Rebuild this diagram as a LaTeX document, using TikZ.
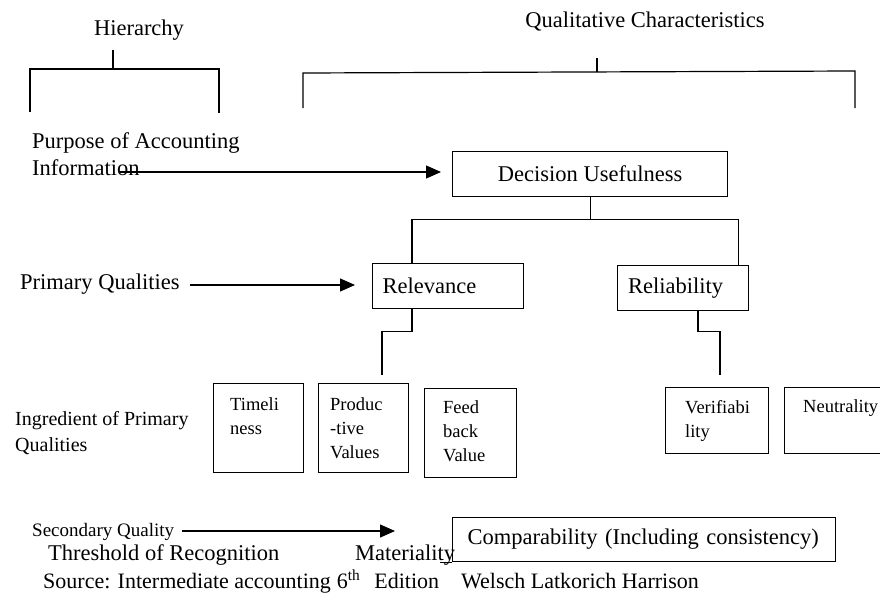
\documentclass[tikz,border=0pt]{standalone}
\usepackage{fontspec}
\setmainfont{Liberation Serif}
\usetikzlibrary{arrows.meta}
\begin{document}
\begin{tikzpicture}[x=1pt,y=-1pt,
  ln/.style={line width=1.2pt},
  arr/.style={line width=1.2pt,-{Triangle[length=15pt,width=13pt]}},
  box/.style={draw,line width=1.2pt,inner sep=0pt,anchor=north west},
  tx/.style={inner sep=0pt,anchor=base west},
  fbig/.style={font=\fontsize{22.5}{24}\selectfont},
  fmid/.style={font=\fontsize{20}{26}\selectfont},
  fsec/.style={font=\fontsize{19}{22}\selectfont},
  fsrc/.style={font=\fontsize{22}{24}\selectfont},
  fsmall/.style={font=\fontsize{18.5}{24}\selectfont,align=left,anchor=north west,inner sep=0pt},
]
\useasboundingbox (0,0) rectangle (880,594);

% headings and brackets
\node[tx,fbig,anchor=base] (hier) at (139,36) {Hierarchy};
\node[tx,fbig,anchor=base] (qc) at (645,28) {Qualitative Characteristics};
\draw[ln] (30,112) -- (30,69) -- (219,69) -- (219,113);
\draw[ln] (113,69) -- (113,50);
\draw[ln] (303,108) -- (303,73) -- (855,71) -- (855,108);
\draw[ln] (597,72) -- (597,58);

% left labels
\node[tx,fbig] (purp) at (32,148) {Purpose of Accounting};
\node[tx,fbig] (info) at (32,175) {Information};
\node[tx,fbig] (prim) at (20,289) {Primary Qualities};
\node[tx,fmid] (ingr) at (15,425) {Ingredient of Primary};
\node[tx,fmid] (ingr2) at (15,451) {Qualities};
\node[tx,fsec] (secq) at (32,536) {Secondary Quality};
\node[tx,fbig] (thr) at (48,560) {Threshold of Recognition};
\node[tx,fbig] (mat) at (355,560) {Materiality};
\node[tx,fsrc] (src) at (43,588) {Source: Intermediate accounting\hspace{6pt}6\textsuperscript{th}\hspace{14pt}Edition\hspace{22pt}Welsch Latkorich Harrison};

% main boxes
\node[box,fbig,minimum width=275pt,minimum height=45pt] (du) at (452,151) {Decision Usefulness};
\node[box,fbig,minimum width=151pt,minimum height=45pt,text width=131pt,inner xsep=10pt,align=left] (rel) at (372,263) {Relevance};
\node[box,fbig,minimum width=131pt,minimum height=45pt,text width=110pt,inner xsep=10.5pt,align=left] (rb) at (617,265) {Reliability};
\node[box,fbig,minimum width=383pt,minimum height=44pt,text width=353pt,inner xsep=15pt,align=left] (cmp) at (452,517) {Comparability (Including consistency)\\[4pt]};

% ingredient boxes
\node[box,minimum width=90pt,minimum height=89pt] (b1) at (213,383) {};
\node[box,minimum width=90pt,minimum height=89pt] (b2) at (318,383) {};
\node[box,minimum width=92pt,minimum height=89pt] (b3) at (424,388) {};
\node[box,minimum width=103pt,minimum height=66pt] (b4) at (665,387) {};
\node[box,minimum width=110pt,minimum height=66pt] (b5) at (784,387) {};
\node[fsmall] (t1) at (230,397) {Timeli\\ness};
\node[fsmall] (t2) at (330,397) {Produc\\-tive\\Values};
\node[fsmall] (t3) at (443,400) {Feed\\back\\Value};
\node[fsmall] (t4) at (685,400) {Verifiabi\\lity};
\node[fsmall] (t5) at (803,399) {Neutrality};

% arrows
\draw[arr] (120,172) -- ([xshift=-11pt]du.west |- 0,172);
\draw[arr] ([xshift=10pt]prim.east |- 0,285) -- ([xshift=-17pt]rel.west |- 0,285);
\draw[arr] ([xshift=8pt]secq.east |- 0,531) -- ([xshift=-57pt]cmp.west |- 0,531);

% tree connectors
\coordinate (j1) at ([yshift=-22pt]du.south);
\draw[ln] (du.south) -- (j1);
\draw[ln] ([xshift=40pt]rel.north west) |- (j1) -| ([xshift=-11pt]rb.north east);
\coordinate (rv) at (382,375);
\draw[ln] ([xshift=40pt]rel.south west) -- ++(0,22) -| (rv);
\coordinate (rbv) at (720,375);
\draw[ln] ([xshift=81pt]rb.south west) -- ++(0,20) -| (rbv);
\draw[ln] (cmp.south west) -- ++(-12,0);
\end{tikzpicture}
\end{document}
